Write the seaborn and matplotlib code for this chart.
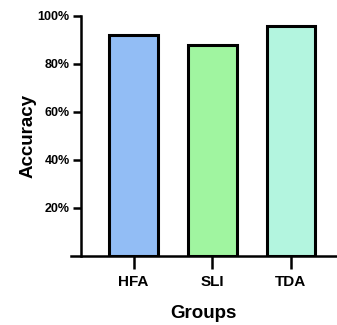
import matplotlib
matplotlib.use("Agg")
import matplotlib.pyplot as plt
import seaborn as sns
import pandas as pd

groups = ["HFA", "SLI", "TDA"]
accuracy = [92, 88, 96]
colors = ["#92bdf5", "#a0f5a0", "#b3f5df"]
yticks = [20, 40, 60, 80, 100]
ytick_labels = ["20%", "40%", "60%", "80%", "100%"]

sns.set_style("ticks")
plt.rcParams["font.family"] = ["Liberation Sans", "DejaVu Sans"]
plt.rcParams["font.weight"] = "bold"

df = pd.DataFrame({"Groups": groups, "Accuracy": accuracy})

fig = plt.figure(figsize=(3.37, 3.25), dpi=100)
ax = fig.add_axes([0.2107, 0.2123, 0.7864, 0.7385])

sns.barplot(data=df, x="Groups", y="Accuracy", hue="Groups", palette=colors,
            legend=False, width=0.62, edgecolor="black", linewidth=2.2,
            saturation=1, ax=ax)

ax.set_xlim(-0.796, 2.573)
ax.set_ylim(0, 100)
ax.set_yticks(yticks)
ax.set_yticklabels(ytick_labels)

sns.despine(ax=ax)
ax.spines["left"].set_position(("data", -0.673))
for s in ["left", "bottom"]:
    ax.spines[s].set_linewidth(1.8)
    ax.spines[s].set_color("black")

ax.tick_params(axis="y", length=6, width=1.8, labelsize=9, pad=2, colors="black")
ax.tick_params(axis="x", length=9, width=1.8, labelsize=11, pad=5, colors="black")
for lab in ax.get_xticklabels() + ax.get_yticklabels():
    lab.set_fontweight("bold")

ax.set_ylabel("Accuracy", fontsize=13.5, fontweight="bold", labelpad=1, color="black")
ax.set_xlabel("Groups", fontsize=13.5, fontweight="bold", labelpad=11, color="black")

fig.savefig("out.png", dpi=100)
